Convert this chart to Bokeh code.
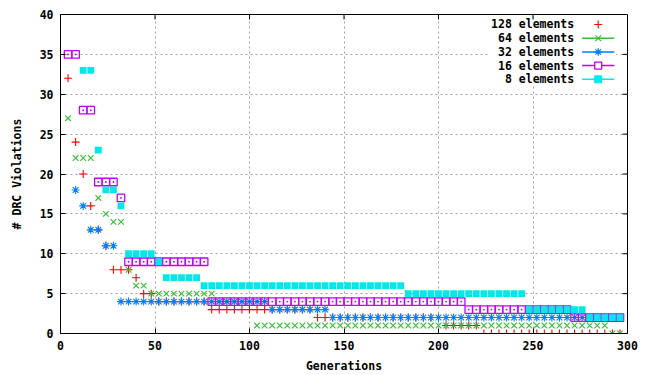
import numpy as np
from bokeh.plotting import figure
from bokeh.models import FixedTicker, Range1d, BoxAnnotation, Label
from bokeh.embed import file_html
from bokeh.resources import INLINE

# ---------------- data ----------------
generations = [4, 8, 12, 16, 20, 24, 28, 32, 36, 40,
               44, 48, 52, 56, 60, 64, 68, 72, 76, 80,
               84, 88, 92, 96, 100, 104, 108, 112, 116, 120,
               124, 128, 132, 136, 140, 144, 148, 152, 156, 160,
               164, 168, 172, 176, 180, 184, 188, 192, 196, 200,
               204, 208, 212, 216, 220, 224, 228, 232, 236, 240,
               244, 248, 252, 256, 260, 264, 268, 272, 276, 280,
               284, 288, 292, 296]

elements_128 = [32, 24, 20, 16, 13, 11, 8, 8, 8, 7,
                5, 5, 4, 4, 4, 4, 4, 4, 4, 3,
                3, 3, 3, 3, 3, 3, 3, 3, 3, 3,
                3, 3, 3, 2, 2, 2, 2, 2, 2, 2,
                2, 2, 2, 2, 2, 2, 2, 2, 2, 2,
                1, 1, 1, 1, 1, 0, 0, 0, 0, 0,
                0, 0, 0, 0, 0, 0, 0, 0, 0, 0,
                0, 0, 0, 0]

elements_64 = [27, 22, 22, 22, 17, 15, 14, 14, 8, 6,
               6, 5, 5, 5, 5, 5, 5, 5, 5, 5,
               4, 4, 4, 4, 4, 1, 1, 1, 1, 1,
               1, 1, 1, 1, 1, 1, 1, 1, 1, 1,
               1, 1, 1, 1, 1, 1, 1, 1, 1, 1,
               1, 1, 1, 1, 1, 1, 1, 1, 1, 1,
               1, 1, 1, 1, 1, 1, 1, 1, 1, 1,
               1, 1, 0, 0]

elements_32 = [None, 18, 16, 13, 13, 11, 11, 4, 4, 4,
               4, 4, 4, 4, 4, 4, 4, 4, 4, 4,
               4, 4, 4, 4, 4, 4, 4, 3, 3, 3,
               3, 3, 3, 3, 3, 2, 2, 2, 2, 2,
               2, 2, 2, 2, 2, 2, 2, 2, 2, 2,
               2, 2, 2, 2, 2, 2, 2, 2, 2, 2,
               2, 2, 2, 2, 2, 2, 2, 2, 2, 2,
               2, 2, 2, 2]

elements_16 = [35, 35, 28, 28, 19, 19, 19, 17, 9, 9,
               9, 9, 9, 9, 9, 9, 9, 9, 9, 4,
               4, 4, 4, 4, 4, 4, 4, 4, 4, 4,
               4, 4, 4, 4, 4, 4, 4, 4, 4, 4,
               4, 4, 4, 4, 4, 4, 4, 4, 4, 4,
               4, 4, 4, 3, 3, 3, 3, 3, 3, 3,
               3, 3, 3, 3, 3, 3, 3, 2, 2, 2,
               2, 2, 2, 2]

elements_8 = [None, None, 33, 33, 23, 18, 18, 16, 10, 10,
              10, 10, 9, 7, 7, 7, 7, 7, 6, 6,
              6, 6, 6, 6, 6, 6, 6, 6, 6, 6,
              6, 6, 6, 6, 6, 6, 6, 6, 6, 6,
              6, 6, 6, 6, 6, 5, 5, 5, 5, 5,
              5, 5, 5, 5, 5, 5, 5, 5, 5, 5,
              5, 3, 3, 3, 3, 3, 3, 3, 3, 2,
              2, 2, 2, 2]

series_labels = ["128 elements", "64 elements", "32 elements", "16 elements", "8 elements"]
x_ticks = [0, 50, 100, 150, 200, 250, 300]
y_ticks = [0, 5, 10, 15, 20, 25, 30, 35, 40]

# ---------------- style ----------------
FONT = "DejaVu Sans Mono"
FSIZE = "11.5px"
colors = ["#ff0000", "#30c030", "#0080ff", "#c000ff", "#00e8e8"]
markers = ["cross", "x", "asterisk", "square_dot", "square"]
sizes = [8, 8, 8, 7.5, 6.8]
X0, X1, Y0, Y1 = 0, 300, 0, 40


def arr(v):
    return np.array([np.nan if a is None else a for a in v], dtype=float)


p = figure(width=648, height=375, output_backend="svg", toolbar_location=None,
           x_range=Range1d(X0, X1), y_range=Range1d(Y0, Y1),
           min_border_left=60, min_border_right=21, min_border_top=14, min_border_bottom=41)
p.outline_line_color = "black"
p.outline_line_width = 1
p.background_fill_color = "white"
p.border_fill_color = "white"

p.xaxis.ticker = FixedTicker(ticks=x_ticks)
p.yaxis.ticker = FixedTicker(ticks=y_ticks)
p.xgrid.ticker = FixedTicker(ticks=x_ticks[1:-1])
p.ygrid.ticker = FixedTicker(ticks=y_ticks[1:-1])
p.grid.grid_line_color = "#a0a0a0"
p.grid.grid_line_dash = "2 3"
p.grid.grid_line_width = 1

for ax in (p.xaxis[0], p.yaxis[0]):
    ax.major_tick_in = 5
    ax.major_tick_out = 0
    ax.minor_tick_line_color = None
    ax.axis_line_color = "black"
    ax.major_label_text_font = FONT
    ax.major_label_text_font_style = "bold"
    ax.major_label_text_font_size = FSIZE
    ax.major_label_text_color = "black"
    ax.axis_label_text_font = FONT
    ax.axis_label_text_font_style = "bold"
    ax.axis_label_text_font_size = FSIZE
    ax.axis_label_text_color = "black"
    ax.major_label_standoff = 7

p.xaxis.axis_label = "Generations"
p.yaxis.axis_label = "# DRC Violations"
p.xaxis.axis_label_standoff = 6
p.yaxis.axis_label_standoff = 13

# mirrored inward ticks on top and right borders (5 px long)
tick_len_x = 5 * (X1 - X0) / 567.0
tick_len_y = 5 * (Y1 - Y0) / 320.0
xt = [t for t in x_ticks[1:-1]]
yt = [t for t in y_ticks[1:-1]]
p.segment(x0=xt, y0=[Y1] * len(xt), x1=xt, y1=[Y1 - tick_len_y] * len(xt),
          line_color="black", line_width=1)
p.segment(x0=[X1] * len(yt), y0=yt, x1=[X1 - tick_len_x] * len(yt), y1=yt,
          line_color="black", line_width=1)

# opaque key background
key_bg = BoxAnnotation(left=226.5, right=294, bottom=31.0, top=39.4,
                       fill_color="white", fill_alpha=1.0, line_color=None, level="underlay")
p.add_layout(key_bg)

# ---------------- series ----------------
x = np.array(generations, dtype=float)
all_series = [elements_128, elements_64, elements_32, elements_16, elements_8]
for vals, c, m, s in zip(all_series, colors, markers, sizes):
    y = arr(vals)
    if m == "square":
        p.scatter(x, y, marker=m, size=s, fill_color=c, line_color=None)
    elif m == "square_dot":
        p.scatter(x, y, marker=m, size=s, fill_alpha=0, line_color=c, line_width=1.3)
    else:
        p.scatter(x, y, marker=m, size=s, line_color=c, line_width=1.1)

# ---------------- key (gnuplot style: label, then sample) ----------------
key_text_x = 271.8
key_line_x0, key_line_x1 = 276.0, 293.0
key_marker_x = 284.5
key_rows = [38.75, 37.03, 35.31, 33.59, 31.87]

for i, (lab, c, m, s) in enumerate(zip(series_labels, colors, markers, sizes)):
    yy = key_rows[i]
    p.add_layout(Label(x=key_text_x, y=yy, text=lab, text_align="right", text_baseline="middle",
                       text_font=FONT, text_font_style="bold", text_font_size=FSIZE,
                       text_color="black"))
    if i > 0:
        p.segment(x0=[key_line_x0], y0=[yy], x1=[key_line_x1], y1=[yy], line_color=c, line_width=1.5)
    if m == "square":
        p.scatter([key_marker_x], [yy], marker=m, size=7, fill_color=c, line_color=c)
    elif m == "square_dot":
        p.scatter([key_marker_x], [yy], marker="square", size=7, fill_color="white", line_color=c, line_width=1.3)
    else:
        p.scatter([key_marker_x], [yy], marker=m, size=s, line_color=c, line_width=1.1)

open("out.html", "w").write(file_html(p, INLINE))
